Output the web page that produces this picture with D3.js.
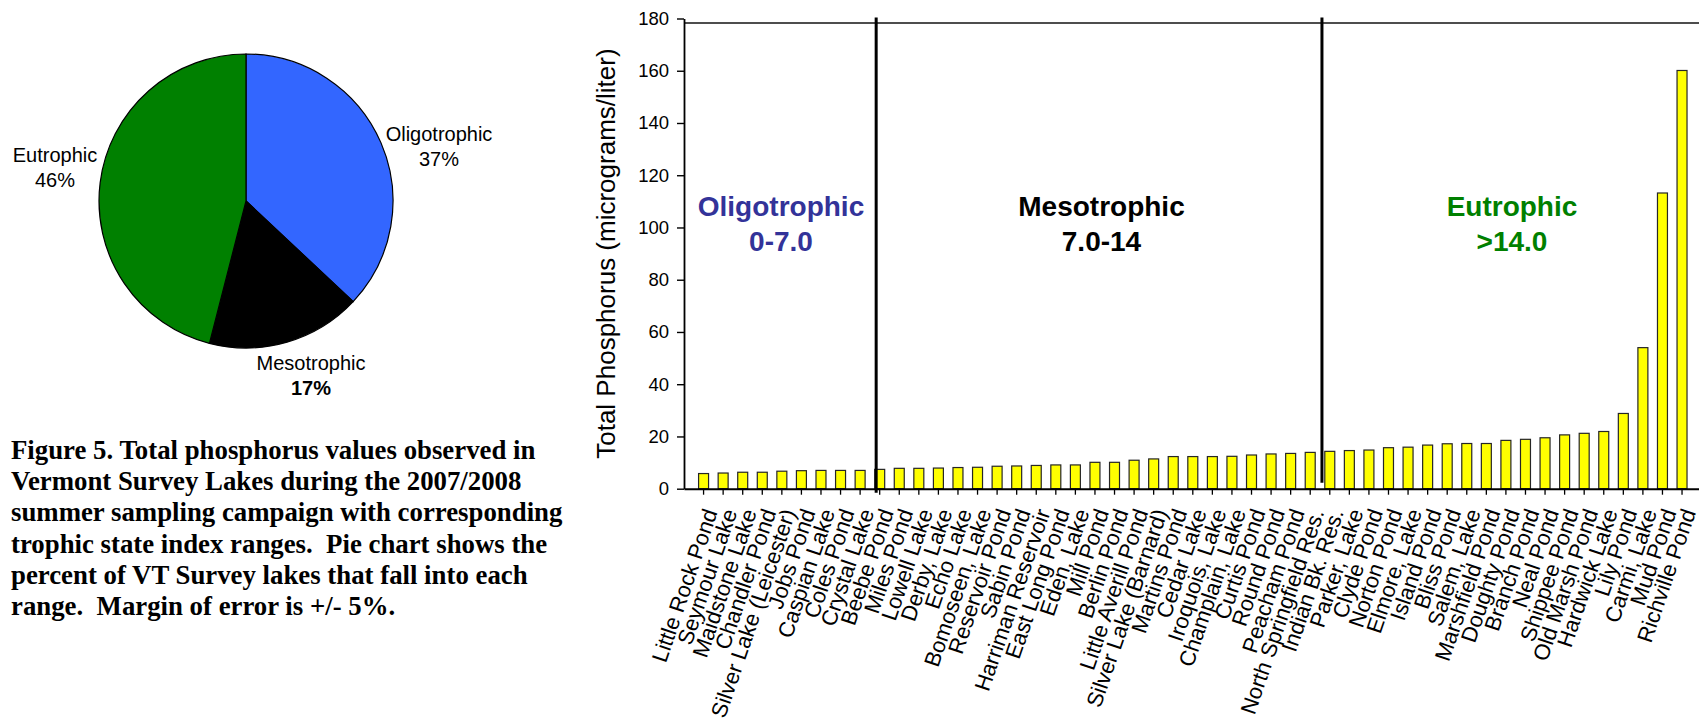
<!DOCTYPE html>
<html>
<head>
<meta charset="utf-8">
<script src="https://cdn.jsdelivr.net/npm/d3@7"></script>
<style>
  html, body { margin: 0; padding: 0; background: #ffffff; }
  svg { display: block; }
</style>
</head>
<body>
<svg id="fig" width="1699" height="723"></svg>
<script>
// ---- Data ---------------------------------------------------------------
const lakes = [
  "Little Rock Pond", "Seymour Lake", "Maidstone Lake", "Chandler Pond",
  "Silver Lake (Leicester)", "Jobs Pond", "Caspian Lake", "Coles Pond",
  "Crystal Lake", "Beebe Pond", "Miles Pond", "Lowell Lake", "Derby, Lake",
  "Echo Lake", "Bomoseen, Lake", "Reservoir Pond", "Sabin Pond",
  "Harriman Reservoir", "East Long Pond", "Eden, Lake", "Mill Pond",
  "Berlin Pond", "Little Averill Pond", "Silver Lake (Barnard)", "Martins Pond",
  "Cedar Lake", "Iroquois, Lake", "Champlain, Lake", "Curtis Pond",
  "Round Pond", "Peacham Pond", "North Springfield Res.", "Indian Bk. Res.",
  "Parker, Lake", "Clyde Pond", "Norton Pond", "Elmore, Lake", "Island Pond",
  "Bliss Pond", "Salem, Lake", "Marshfield Pond", "Doughty Pond",
  "Branch Pond", "Neal Pond", "Shippee Pond", "Old Marsh Pond",
  "Hardwick Lake", "Lily Pond", "Carmi, Lake", "Mud Pond", "Richville Pond"
];

// Total phosphorus, micrograms per liter
const phosphorus = [
  5.8, 6.0, 6.3, 6.3, 6.7, 6.9, 7.0, 7.0,
  7.0, 7.4, 7.8, 7.8, 7.9,
  8.1, 8.2, 8.6, 8.7,
  8.9, 9.1, 9.1, 10.1,
  10.1, 10.9, 11.4, 12.3,
  12.3, 12.3, 12.4, 12.9,
  13.3, 13.5, 13.9, 14.3,
  14.6, 14.8, 15.7, 15.9, 16.7,
  17.2, 17.3, 17.3, 18.5,
  18.9, 19.5, 20.6, 21.2,
  21.9, 28.8, 54.0, 113.2, 160.1
];

const yTicks = [0, 20, 40, 60, 80, 100, 120, 140, 160, 180];
const yAxisTitle = "Total Phosphorus (micrograms/liter)";

// Trophic classes: pie shares (%) and the threshold ranges shown on the bar chart
const trophicClasses = ["Oligotrophic", "Mesotrophic", "Eutrophic"];
const trophicShares = [37, 17, 46];
const trophicRanges = ["0-7.0", "7.0-14", ">14.0"];
const trophicColors = ["#3366ff", "#000000", "#008000"];
const zoneTextColors = ["#333399", "#000000", "#008000"];

// Last lake of each lower class; a divider is drawn just after it
const dividerAfter = ["Crystal Lake", "North Springfield Res."];
const dividerFrac = [0.82, 0.6];

const caption = [
  "Figure 5. Total phosphorus values observed in",
  "Vermont Survey Lakes during the 2007/2008",
  "summer sampling campaign with corresponding",
  "trophic state index ranges.  Pie chart shows the",
  "percent of VT Survey lakes that fall into each",
  "range.  Margin of error is +/- 5%."
];

const SANS = "'Liberation Sans', Arial, sans-serif";
const SERIF = "'Liberation Serif', 'Times New Roman', serif";

// ---- Layout ---------------------------------------------------------------
const svg = d3.select("#fig").style("font-family", SANS);

const plot = { left: 684, right: 1701.6, top: 18.5, bottom: 488.7 };

const x = d3.scaleBand()
  .domain(lakes)
  .range([plot.left, plot.right])
  .paddingInner(0.49)
  .paddingOuter(0.745);

const y = d3.scaleLinear()
  .domain([0, 180])
  .range([plot.bottom, plot.top]);

// ---- Bar chart ------------------------------------------------------------
const chart = svg.append("g");

// thin frame line along the top of the plot area
chart.append("line")
  .attr("x1", plot.left).attr("x2", 1699)
  .attr("y1", y(178.3)).attr("y2", y(178.3))
  .attr("stroke", "#4d4d4d").attr("stroke-width", 2);

// bars
chart.append("g")
  .selectAll("rect")
  .data(lakes.map((name, i) => ({ name, value: phosphorus[i] })))
  .join("rect")
  .attr("x", d => x(d.name))
  .attr("y", d => y(d.value))
  .attr("width", x.bandwidth())
  .attr("height", d => y(0) - y(d.value))
  .attr("fill", "#ffff00")
  .attr("stroke", "#262626")
  .attr("stroke-width", 1.2);

// y axis
const yAxis = chart.append("g")
  .attr("transform", `translate(${plot.left},0)`)
  .call(d3.axisLeft(y).tickValues(yTicks).tickSize(7).tickSizeOuter(0).tickPadding(8));
yAxis.select(".domain").attr("stroke", "#000").attr("stroke-width", 1.8);
yAxis.selectAll(".tick line").attr("stroke", "#000").attr("stroke-width", 1.4);
yAxis.selectAll(".tick text")
  .attr("font-size", 18.5)
  .attr("font-family", SANS)
  .attr("fill", "#000");

// x axis
const xAxis = chart.append("g")
  .attr("transform", `translate(0,${plot.bottom})`)
  .call(d3.axisBottom(x).tickSize(6).tickSizeOuter(0));
xAxis.select(".domain").attr("stroke", "#000").attr("stroke-width", 2);
xAxis.selectAll(".tick line").attr("stroke", "#000").attr("stroke-width", 1.3);
xAxis.selectAll(".tick text")
  .attr("font-size", 22)
  .attr("font-family", SANS)
  .attr("fill", "#000")
  .attr("text-anchor", "end")
  .attr("y", 0).attr("dy", "0.35em")
  .attr("transform", "translate(7,21) rotate(-71)");

// y axis title
chart.append("text")
  .attr("transform", `translate(606,${(plot.top + plot.bottom) / 2}) rotate(-90)`)
  .attr("text-anchor", "middle")
  .attr("dy", "0.35em")
  .attr("font-size", 26)
  .attr("fill", "#000")
  .text(yAxisTitle);

// class dividers
const step = x.step();
dividerAfter.forEach((name, i) => {
  const xd = x(name) + x.bandwidth() / 2 + dividerFrac[i] * step;
  chart.append("line")
    .attr("x1", xd).attr("x2", xd)
    .attr("y1", y(180) - 1)
    .attr("y2", i === 0 ? y(0) + 4 : y(0) - 6)
    .attr("stroke", "#000").attr("stroke-width", 3);
});

// class names with their phosphorus ranges
const zoneCenters = [781, 1101.5, 1512];
trophicClasses.forEach((name, i) => {
  const t = chart.append("text")
    .attr("text-anchor", "middle")
    .attr("font-size", 28)
    .attr("font-weight", "bold")
    .attr("fill", zoneTextColors[i]);
  t.append("tspan").attr("x", zoneCenters[i]).attr("y", 216).text(name);
  t.append("tspan").attr("x", zoneCenters[i]).attr("y", 250.5).text(trophicRanges[i]);
});

// ---- Pie chart ------------------------------------------------------------
const pieG = svg.append("g").attr("transform", "translate(246,201)");
const pie = d3.pie().sort(null).value(d => d.share);
const arc = d3.arc().innerRadius(0).outerRadius(147);
const slices = pie(trophicClasses.map((name, i) => ({ name, share: trophicShares[i], color: trophicColors[i] })));

pieG.selectAll("path")
  .data(slices)
  .join("path")
  .attr("d", arc)
  .attr("fill", d => d.data.color)
  .attr("stroke", "#000")
  .attr("stroke-width", 1.2);

// slice labels
const pieLabelPos = [
  { x: 439, y: 141, boldPct: false },
  { x: 311, y: 370, boldPct: true },
  { x: 55,  y: 162, boldPct: false }
];
slices.forEach((s, i) => {
  const p = pieLabelPos[i];
  const t = svg.append("text")
    .attr("text-anchor", "middle")
    .attr("font-size", 20)
    .attr("fill", "#000");
  t.append("tspan").attr("x", p.x).attr("y", p.y).text(s.data.name);
  t.append("tspan").attr("x", p.x).attr("y", p.y + 24.5)
    .attr("font-weight", p.boldPct ? "bold" : "normal")
    .text(s.data.share + "%");
});

// ---- Caption --------------------------------------------------------------
const cap = svg.append("text")
  .style("font-family", SERIF)
  .attr("font-size", 26.8)
  .attr("font-weight", "bold")
  .attr("fill", "#000")
  .style("white-space", "pre");
caption.forEach((line, i) => {
  cap.append("tspan").attr("x", 11).attr("y", 459 + i * 31.2).text(line);
});
</script>
</body>
</html>
